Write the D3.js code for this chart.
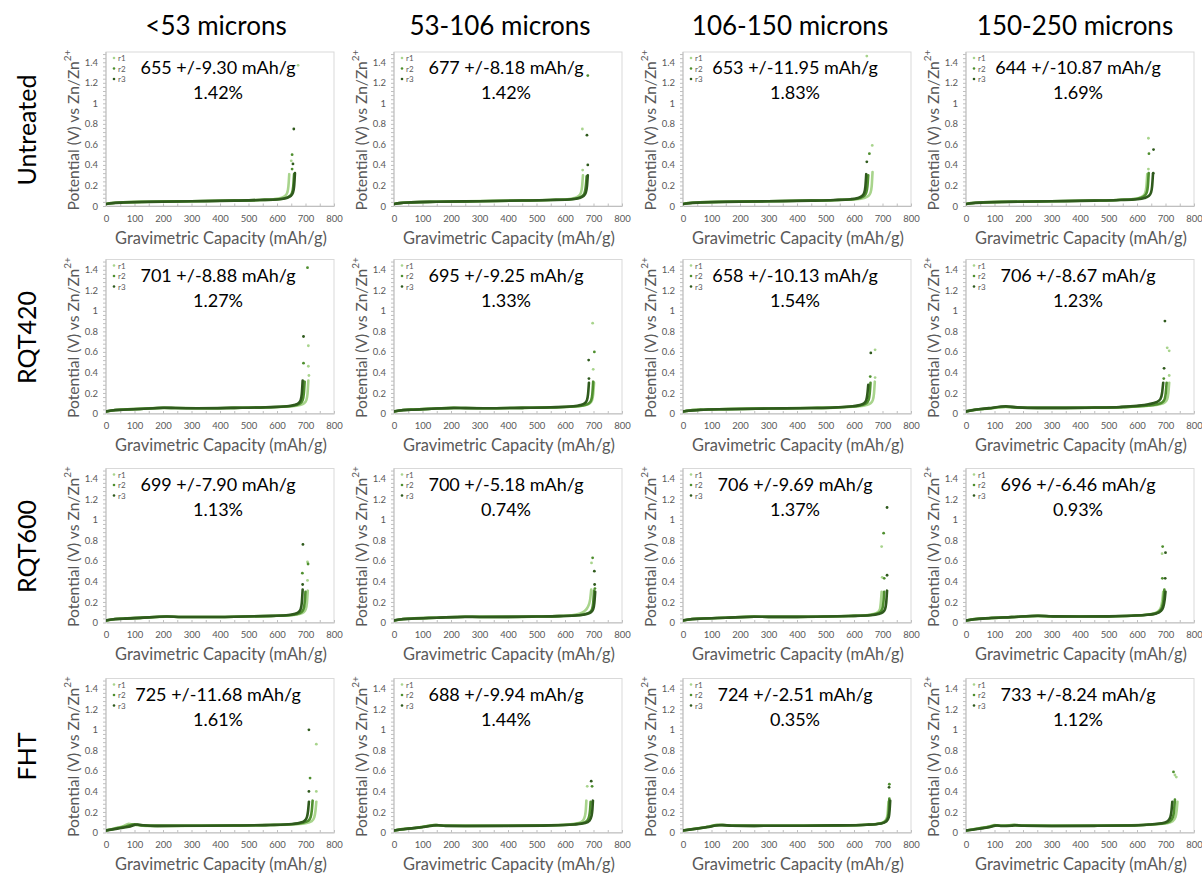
<!DOCTYPE html>
<html><head><meta charset="utf-8">
<script src="https://cdn.jsdelivr.net/npm/d3@7/dist/d3.min.js"></script>
<style>
body{margin:0;background:#fff}
svg{display:block}
text{font-family:Lato,"Open Sans","Liberation Sans",sans-serif}
</style>
</head><body>
<svg id="chart" width="1202" height="874"></svg>
<script>
// ---------- categories & labels ----------
const rowLabels = ["Untreated", "RQT420", "RQT600", "FHT"];
const colLabels = ["<53 microns", "53-106 microns", "106-150 microns", "150-250 microns"];
const capMean = [[655, 677, 653, 644], [701, 695, 658, 706], [699, 700, 706, 696], [725, 688, 724, 733]];
const capErr  = [["9.30", "8.18", "11.95", "10.87"], ["8.88", "9.25", "10.13", "8.67"], ["7.90", "5.18", "9.69", "6.46"], ["11.68", "9.94", "2.51", "8.24"]];
const capPct  = [["1.42", "1.42", "1.83", "1.69"], ["1.27", "1.33", "1.54", "1.23"], ["1.13", "0.74", "1.37", "0.93"], ["1.61", "1.44", "0.35", "1.12"]];
const seriesNames = ["r1", "r2", "r3"];
const xTicks = [0, 100, 200, 300, 400, 500, 600, 700, 800];
const yTicks = [0, 0.2, 0.4, 0.6, 0.8, 1, 1.2, 1.4];

// ---------- series values: [capacity mAh/g, potential V] ----------
// Untreated
const U1 = [
 [[0,.02],[20,.028],[60,.035],[150,.041],[300,.047],[450,.053],[540,.059],[588,.066],[613,.078],[628,.097],[636,.13],[640,.19],[643,.31]],
 [[0,.02],[20,.028],[60,.035],[150,.041],[300,.047],[450,.053],[540,.058],[605,.066],[630,.078],[645,.097],[653,.13],[657,.19],[660,.31]],
 [[0,.02],[20,.027],[60,.034],[150,.040],[300,.046],[450,.052],[540,.058],[608,.066],[633,.078],[648,.097],[656,.13],[660,.19],[663,.32]]];
const U1o = [[650,.44,0],[674,1.37,0],[659,.75,2],[653,.50,1],[656,.41,2],[653,.36,1]];
const U2 = [
 [[0,.02],[20,.029],[60,.036],[150,.042],[300,.048],[450,.054],[540,.059],[608,.066],[633,.078],[648,.097],[656,.13],[660,.19],[663,.30]],
 [[0,.02],[20,.028],[60,.035],[150,.041],[300,.047],[450,.053],[550,.059],[621,.066],[646,.078],[661,.097],[669,.13],[673,.19],[676,.29]],
 [[0,.02],[20,.028],[60,.035],[150,.041],[300,.047],[450,.053],[550,.058],[625,.066],[650,.078],[665,.097],[673,.13],[677,.19],[680,.30]]];
const U2o = [[661,.75,0],[677,.69,2],[680,.40,2],[662,.35,0],[680,1.27,1]];
const U3 = [
 [[0,.02],[20,.028],[60,.035],[150,.041],[300,.047],[450,.053],[550,.059],[610,.066],[635,.078],[650,.097],[658,.13],[662,.19],[665,.33]],
 [[0,.02],[20,.028],[60,.035],[150,.041],[300,.047],[450,.053],[540,.059],[595,.066],[620,.078],[635,.097],[643,.13],[647,.19],[650,.30]],
 [[0,.02],[20,.027],[60,.034],[150,.040],[300,.046],[450,.052],[530,.058],[588,.066],[613,.078],[628,.097],[636,.13],[640,.19],[643,.31]]];
const U3o = [[645,.43,2],[654,.51,1],[664,.59,0],[645,1.46,0]];
const U4 = [
 [[0,.02],[20,.028],[60,.035],[150,.041],[300,.047],[450,.053],[530,.059],[581,.066],[606,.078],[621,.097],[629,.13],[633,.19],[636,.31]],
 [[0,.02],[20,.028],[60,.035],[150,.041],[300,.047],[450,.053],[530,.059],[586,.066],[611,.078],[626,.097],[634,.13],[638,.19],[641,.32]],
 [[0,.02],[20,.027],[60,.034],[150,.040],[300,.046],[450,.052],[540,.058],[601,.066],[626,.078],[641,.097],[649,.13],[653,.19],[656,.31]]];
const U4o = [[640,.66,0],[642,.51,1],[658,.55,2],[640,.36,0],[657,.32,2]];
// RQT420
const A1 = [
 [[0,.02],[20,.03],[60,.038],[120,.045],[200,.056],[240,.053],[320,.051],[450,.055],[560,.06],[655,.07],[680,.082],[695,.10],[703,.13],[707,.19],[710,.32]],
 [[0,.02],[20,.03],[60,.038],[120,.045],[200,.055],[240,.053],[320,.051],[450,.055],[560,.06],[642,.07],[667,.082],[682,.10],[690,.13],[694,.19],[697,.31]],
 [[0,.02],[20,.029],[60,.037],[120,.044],[205,.056],[245,.053],[320,.051],[450,.055],[560,.061],[635,.07],[660,.082],[675,.10],[683,.13],[687,.19],[690,.32]]];
const A1o = [[693,.75,2],[693,.49,1],[710,.66,0],[710,.46,0],[712,.37,0],[707,1.42,1]];
const A2 = [
 [[0,.02],[20,.03],[60,.038],[120,.045],[210,.055],[250,.053],[320,.051],[450,.055],[560,.06],[647,.07],[672,.082],[687,.10],[695,.13],[699,.19],[702,.30]],
 [[0,.02],[20,.03],[60,.038],[120,.045],[210,.055],[250,.053],[320,.051],[450,.055],[560,.06],[644,.07],[669,.082],[684,.10],[692,.13],[696,.19],[699,.31]],
 [[0,.02],[20,.029],[60,.037],[120,.044],[210,.054],[250,.052],[320,.051],[450,.055],[550,.061],[629,.07],[654,.082],[669,.10],[677,.13],[681,.19],[684,.30]]];
const A2o = [[697,.88,0],[683,.52,2],[703,.60,1],[699,.43,0],[684,.34,2]];
const A3 = [
 [[0,.02],[20,.028],[60,.036],[150,.043],[300,.049],[450,.054],[550,.06],[618,.07],[643,.082],[658,.10],[666,.13],[670,.19],[673,.31]],
 [[0,.02],[20,.028],[60,.036],[150,.043],[300,.049],[450,.054],[540,.06],[603,.07],[628,.082],[643,.10],[651,.13],[655,.19],[658,.30]],
 [[0,.02],[20,.027],[60,.035],[150,.042],[300,.048],[450,.053],[530,.059],[595,.07],[620,.082],[635,.10],[643,.13],[647,.19],[650,.28]]];
const A3o = [[659,.59,2],[674,.62,0],[657,.36,1],[674,.35,0]];
const A4 = [
 [[0,.02],[30,.034],[80,.048],[140,.064],[180,.058],[250,.054],[350,.054],[450,.056],[550,.061],[640,.075],[680,.09],[698,.11],[706,.14],[710,.20],[713,.30]],
 [[0,.02],[30,.035],[80,.05],[140,.066],[180,.059],[250,.055],[350,.055],[450,.057],[550,.062],[630,.075],[670,.09],[689,.11],[697,.14],[701,.20],[704,.30]],
 [[0,.02],[30,.036],[80,.052],[140,.07],[180,.06],[250,.055],[350,.055],[450,.058],[540,.064],[600,.075],[640,.09],[668,.11],[682,.14],[688,.20],[692,.30]]];
const A4o = [[698,.90,2],[706,.64,0],[713,.61,0],[695,.44,2],[713,.37,0],[694,.34,1]];
// RQT600
const B1 = [
 [[0,.02],[20,.03],[60,.038],[120,.045],[210,.057],[260,.054],[340,.053],[450,.056],[560,.062],[650,.07],[678,.082],[693,.10],[701,.13],[705,.19],[708,.31]],
 [[0,.02],[20,.03],[60,.038],[120,.045],[210,.058],[260,.054],[340,.053],[450,.056],[560,.062],[642,.07],[670,.082],[685,.10],[693,.13],[697,.19],[700,.30]],
 [[0,.02],[20,.029],[60,.037],[120,.045],[215,.058],[265,.054],[340,.053],[450,.056],[560,.063],[632,.07],[660,.082],[675,.10],[683,.13],[687,.19],[690,.32]]];
const B1o = [[691,.76,2],[689,.48,1],[707,.59,0],[709,.57,1],[707,.41,0],[690,.37,2]];
const B2 = [
 [[0,.02],[20,.03],[60,.038],[150,.047],[250,.056],[300,.055],[400,.055],[500,.058],[570,.062],[620,.07],[650,.085],[668,.11],[680,.15],[688,.22],[692,.32]],
 [[0,.02],[20,.03],[60,.038],[150,.047],[250,.056],[300,.055],[400,.055],[500,.058],[580,.062],[644,.07],[672,.082],[687,.10],[695,.13],[699,.19],[702,.31]],
 [[0,.02],[20,.029],[60,.037],[150,.046],[250,.055],[300,.054],[400,.055],[500,.058],[580,.062],[648,.07],[676,.082],[691,.10],[699,.13],[703,.19],[706,.30]]];
const B2o = [[697,.63,1],[693,.58,0],[703,.50,2],[704,.37,2],[705,.33,1]];
const B3 = [
 [[0,.02],[20,.03],[60,.038],[150,.047],[250,.057],[300,.055],[400,.055],[500,.058],[580,.063],[640,.07],[668,.082],[683,.10],[691,.13],[694,.19],[697,.30]],
 [[0,.02],[20,.03],[60,.038],[150,.047],[250,.057],[300,.055],[400,.055],[500,.058],[580,.063],[648,.07],[676,.082],[691,.10],[699,.13],[703,.19],[706,.30]],
 [[0,.02],[20,.029],[60,.037],[150,.046],[250,.056],[300,.055],[400,.055],[500,.058],[590,.063],[658,.07],[686,.082],[701,.10],[709,.13],[713,.19],[716,.31]]];
const B3o = [[697,.74,0],[704,.87,1],[716,1.12,2],[699,.44,0],[706,.43,1],[716,.46,2]];
const B4 = [
 [[0,.02],[30,.033],[80,.042],[160,.052],[250,.063],[300,.059],[400,.058],[500,.06],[580,.066],[630,.075],[660,.088],[675,.11],[684,.15],[689,.22],[692,.30]],
 [[0,.02],[30,.033],[80,.043],[160,.053],[250,.065],[300,.06],[400,.058],[500,.06],[580,.066],[634,.075],[664,.088],[679,.11],[688,.15],[693,.22],[696,.32]],
 [[0,.02],[30,.032],[80,.042],[160,.052],[255,.066],[305,.06],[400,.058],[500,.06],[580,.066],[638,.075],[668,.088],[683,.11],[692,.15],[697,.22],[700,.30]]];
const B4o = [[690,.74,1],[688,.67,0],[700,.68,2],[689,.43,1],[699,.43,2]];
// FHT
const F1 = [
 [[0,.02],[30,.04],[60,.06],[80,.085],[95,.075],[140,.065],[250,.065],[400,.068],[550,.072],[650,.078],[700,.09],[722,.11],[731,.15],[735,.21],[738,.30]],
 [[0,.02],[35,.039],[70,.058],[100,.08],[120,.072],[170,.065],[300,.066],[450,.068],[570,.073],[650,.08],[690,.095],[710,.115],[718,.15],[722,.21],[725,.31]],
 [[0,.02],[40,.038],[80,.055],[110,.078],[130,.07],[180,.065],[300,.066],[450,.068],[560,.072],[640,.08],[680,.095],[697,.115],[705,.15],[709,.21],[712,.30]]];
const F1o = [[712,1.0,2],[738,.86,0],[716,.53,1],[712,.40,2],[738,.40,0]];
const F2 = [
 [[0,.02],[40,.035],[90,.05],[130,.07],[145,.074],[170,.067],[250,.065],[400,.066],[530,.07],[610,.078],[648,.092],[663,.115],[670,.16],[673,.22],[675,.31]],
 [[0,.02],[40,.035],[90,.05],[135,.07],[150,.072],[175,.066],[250,.065],[400,.066],[540,.07],[625,.078],[663,.092],[678,.115],[685,.16],[688,.22],[690,.30]],
 [[0,.02],[40,.034],[90,.048],[140,.068],[155,.07],[180,.065],[250,.064],[400,.065],[550,.069],[633,.078],[671,.092],[686,.115],[693,.16],[696,.22],[698,.31]]];
const F2o = [[678,.45,0],[692,.50,2],[695,.45,1]];
const F3 = [
 [[0,.02],[40,.036],[85,.055],[115,.072],[130,.075],[160,.068],[250,.066],[400,.067],[550,.07],[640,.076],[690,.088],[708,.11],[716,.15],[719,.22],[721,.30]],
 [[0,.02],[40,.035],[85,.054],[120,.072],[135,.073],[165,.067],[250,.065],[400,.066],[550,.069],[643,.076],[693,.088],[711,.11],[719,.15],[722,.22],[724,.33]],
 [[0,.02],[40,.034],[85,.053],[125,.07],[140,.072],[170,.066],[250,.065],[400,.066],[550,.069],[646,.076],[696,.088],[714,.11],[722,.15],[725,.22],[727,.31]]];
const F3o = [[724,.47,1],[723,.44,2]];
const F4 = [
 [[0,.02],[40,.038],[80,.058],[100,.072],[115,.068],[150,.07],[165,.075],[190,.068],[300,.066],[450,.067],[580,.07],[660,.078],[705,.09],[725,.11],[735,.15],[739,.21],[742,.30]],
 [[0,.02],[40,.036],[80,.055],[105,.07],[120,.066],[155,.068],[170,.072],[195,.067],[300,.065],[450,.066],[580,.069],[651,.078],[696,.09],[716,.11],[726,.15],[730,.21],[733,.32]],
 [[0,.02],[40,.034],[80,.052],[110,.068],[125,.064],[160,.066],[175,.07],[200,.066],[300,.064],[450,.065],[580,.068],[642,.078],[687,.09],[707,.11],[717,.15],[721,.21],[724,.30]]];
const F4o = [[728,.59,1],[733,.56,0],[738,.54,0]];

const panelCurves = [[U1, U2, U3, U4], [A1, A2, A3, A4], [B1, B2, B3, B4], [F1, F2, F3, F4]];
const panelOutliers = [[U1o, U2o, U3o, U4o], [A1o, A2o, A3o, A4o], [B1o, B2o, B3o, B4o], [F1o, F2o, F3o, F4o]];

// ---------- layout & style ----------
const colX0 = [106, 394, 683, 966];
const rowY0 = [206, 413.5, 622.5, 832.5];
const plotW = 228, plotH = 154;
const colors = ["#a8d48c", "#4f8f2f", "#2f5a1d"];
const tickColor = "#595959";

const svg = d3.select("#chart");
svg.append("rect").attr("width", 1202).attr("height", 874).attr("fill", "#fff");

const colCenters = [216, 500, 790, 1075];
svg.selectAll("text.coltitle").data(colLabels).enter().append("text")
  .attr("class", "coltitle")
  .attr("x", (d, i) => colCenters[i]).attr("y", 25)
  .attr("text-anchor", "middle").attr("dominant-baseline", "central")
  .attr("font-size", 26).attr("fill", "#000").text(d => d);

svg.selectAll("text.rowtitle").data(rowLabels).enter().append("text")
  .attr("class", "rowtitle")
  .attr("transform", (d, i) => `translate(26,${rowY0[i] - 76}) rotate(-90)`)
  .attr("text-anchor", "middle").attr("dominant-baseline", "central")
  .attr("font-size", 25).attr("fill", "#000").text(d => d);

const line = d3.line().curve(d3.curveMonotoneX);

rowLabels.forEach((rl, r) => {
  colLabels.forEach((cl, c) => {
    const x0 = colX0[c], y0 = rowY0[r];
    const x = d3.scaleLinear().domain([0, 800]).range([x0, x0 + plotW]);
    const y = d3.scaleLinear().domain([0, 1.5]).range([y0, y0 - plotH]);
    const g = svg.append("g");

    // plot border
    g.append("rect").attr("x", x0).attr("y", y0 - plotH).attr("width", plotW).attr("height", plotH)
      .attr("fill", "none").attr("stroke", "#d9d9d9").attr("stroke-width", 1);

    // minor ticks
    const yMinor = d3.range(0, 1.5001, 0.04);
    g.append("g").attr("transform", `translate(${x0},0)`)
      .call(d3.axisLeft(y).tickValues(yMinor).tickSize(3).tickFormat(""))
      .call(s => { s.select(".domain").remove(); s.selectAll("line").attr("stroke", "#bfbfbf"); });
    const xMinor = d3.range(0, 801, 50);
    g.append("g").attr("transform", `translate(0,${y0})`)
      .call(d3.axisTop(x).tickValues(xMinor).tickSize(2.5).tickFormat(""))
      .call(s => { s.select(".domain").remove(); s.selectAll("line").attr("stroke", "#bfbfbf"); });

    // axes
    const ya = g.append("g").attr("transform", `translate(${x0},0)`)
      .call(d3.axisLeft(y).tickValues(yTicks).tickSize(0).tickPadding(8).tickFormat(d => String(d)));
    ya.select(".domain").attr("stroke", "#bfbfbf").attr("d", `M0,${y0}V${y0 - plotH}`);
    ya.selectAll("text").attr("fill", tickColor).attr("font-size", 9.5).attr("font-family", "Lato,'Open Sans',sans-serif");

    const xa = g.append("g").attr("transform", `translate(0,${y0})`)
      .call(d3.axisBottom(x).tickValues(xTicks).tickSize(0).tickPadding(9).tickFormat(d => String(d)));
    xa.select(".domain").attr("stroke", "#bfbfbf");
    xa.selectAll("text").attr("fill", tickColor).attr("font-size", 9.5).attr("font-family", "Lato,'Open Sans',sans-serif");

    // axis titles
    g.append("text").attr("x", x0 + plotW / 2 + 1).attr("y", y0 + 31)
      .attr("text-anchor", "middle").attr("dominant-baseline", "central")
      .attr("font-size", 16.4).attr("fill", tickColor).text("Gravimetric Capacity (mAh/g)");
    const yt = g.append("text")
      .attr("transform", `translate(${x0 - 33},${y0 - plotH / 2 + 1}) rotate(-90)`)
      .attr("text-anchor", "middle").attr("dominant-baseline", "central")
      .attr("font-size", 15.6).attr("fill", tickColor);
    yt.append("tspan").text("Potential (V) vs Zn/Zn");
    yt.append("tspan").attr("font-size", 10).attr("dy", -6).text("2+");

    // data
    const clipId = `clip${r}${c}`;
    g.append("clipPath").attr("id", clipId).append("rect")
      .attr("x", x0).attr("y", y0 - plotH).attr("width", plotW).attr("height", plotH);
    const dg = g.append("g").attr("clip-path", `url(#${clipId})`);
    line.x(d => x(d[0])).y(d => y(d[1]));
    panelCurves[r][c].forEach((pts, s) => {
      dg.append("path").attr("d", line(pts)).attr("fill", "none")
        .attr("stroke", colors[s]).attr("stroke-width", 2.6).attr("stroke-linecap", "round")
        .attr("stroke-linejoin", "round");
    });
    dg.selectAll("circle.out").data(panelOutliers[r][c]).enter().append("circle")
      .attr("class", "out")
      .attr("cx", d => x(d[0])).attr("cy", d => y(d[1])).attr("r", 1.4)
      .attr("fill", d => colors[d[2]]);

    // legend
    seriesNames.forEach((nm, s) => {
      const ly = y0 - plotH + 6 + s * 10.5;
      g.append("circle").attr("cx", x0 + 8).attr("cy", ly).attr("r", 1.3).attr("fill", colors[s]);
      g.append("text").attr("x", x0 + 12).attr("y", ly).attr("dominant-baseline", "central")
        .attr("font-size", 8).attr("fill", tickColor).text(nm);
    });

    // annotation
    const ax = x0 + plotW / 2 - 2;
    g.append("text").attr("x", ax).attr("y", y0 - plotH + 15)
      .attr("text-anchor", "middle").attr("dominant-baseline", "central")
      .attr("font-size", 18).attr("fill", "#000")
      .text(`${capMean[r][c]} +/-${capErr[r][c]} mAh/g`);
    g.append("text").attr("x", ax).attr("y", y0 - plotH + 40)
      .attr("text-anchor", "middle").attr("dominant-baseline", "central")
      .attr("font-size", 18).attr("fill", "#000")
      .text(`${capPct[r][c]}%`);
  });
});
</script>
</body></html>
